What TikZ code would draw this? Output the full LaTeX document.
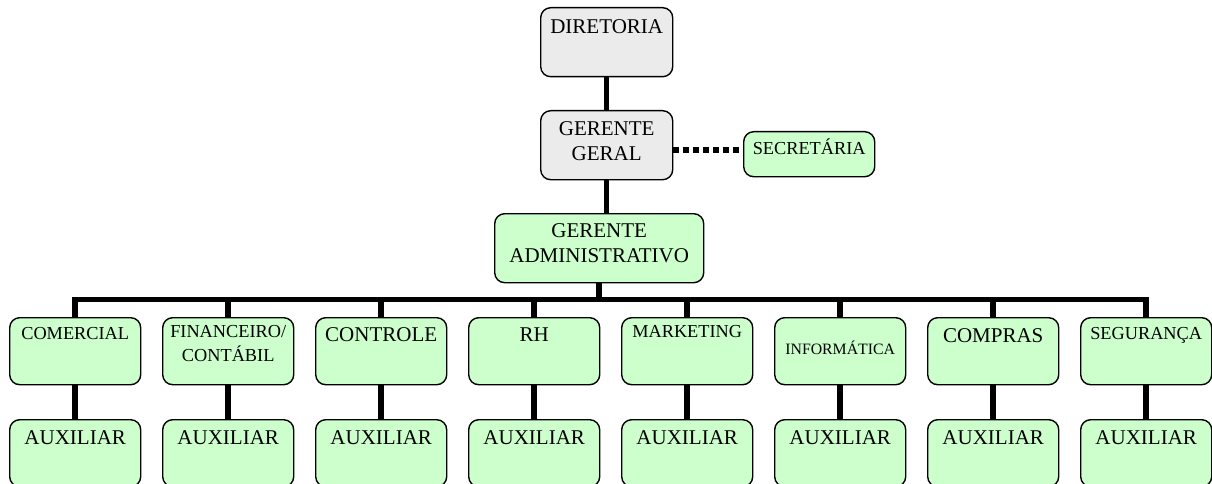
\documentclass[tikz,border=0pt]{standalone}
\usepackage{fontspec}
\setmainfont{Liberation Serif}
\definecolor{boxgrey}{HTML}{EBEBEB}
\definecolor{boxgreen}{HTML}{CCFFCC}
\begin{document}
\begin{tikzpicture}[x=1pt,y=-1pt,
  box/.style={draw=black, line width=1.4pt, rounded corners=10pt, inner sep=0pt,
              anchor=north west, align=center},
  greybox/.style={box, fill=boxgrey},
  greenbox/.style={box, fill=boxgreen},
  pad/.style 2 args={text height=#1pt, text depth=#2pt},
  big/.style={font=\fontsize{21}{24.5}\selectfont},
  small/.style={font=\fontsize{18.3}{24}\selectfont},
  tiny/.style={font=\fontsize{15.8}{19}\selectfont},
  dept/.style={greenbox, text width=131pt},
  link/.style={line width=5.5pt, line join=miter},
  dotlink/.style={line width=5.5pt, dash pattern=on 5.5pt off 4.5pt}]
\useasboundingbox (0,0) rectangle (1212,484);

% upper levels
\node[greybox, big, text width=132pt, pad={26}{43}] (dir) at (540,7) {DIRETORIA};
\node[greybox, big, text width=132pt, pad={25}{44}] (gg) at (540,110) {GERENTE\\GERAL};
\node[greenbox, small, text width=131pt, pad={23}{22}] (sec) at (743,131) {SECRETÁRIA};
\node[greenbox, big, text width=209pt, pad={24}{45}] (ga) at (494,213) {GERENTE\\ADMINISTRATIVO};

% departments
\node[dept, small, pad={22}{45}] (d1) at (9,317)    {COMERCIAL};
\node[dept, small, pad={20}{47}] (d2) at (162,317)  {FINANCEIRO/\\CONTÁBIL};
\node[dept, big,   pad={24}{43}] (d3) at (315,317)  {CONTROLE};
\node[dept, big,   pad={24}{43}] (d4) at (468,317)  {RH};
\node[dept, small, pad={20}{47}] (d5) at (621,317)  {MARKETING};
\node[dept, tiny,  pad={37}{30}] (d6) at (774,317)  {INFORMÁTICA};
\node[dept, big,   pad={25}{42}] (d7) at (927,317)  {COMPRAS};
\node[dept, small, pad={22}{45}] (d8) at (1080,317) {SEGURANÇA};

% assistants
\foreach \i in {1,...,8}{
  \node[dept, big, pad={25}{42}] (a\i) at ({9+153*(\i-1)},419) {AUXILIAR};
}

% connectors
\coordinate (bar) at (ga.south |- 0,299.5);
\coordinate (secy) at (0,150);
\draw[link] (dir.south) -- (gg.north);
\draw[link] (gg.south) -- (gg.south |- ga.north);
\draw[dotlink] (gg.east |- secy) -- (sec.west |- secy);
\draw[link] (ga.south) -- (bar);
\draw[link] (d1.north) |- (bar) -| (d8.north);
\foreach \i in {2,...,7}{
  \draw[link] (d\i.north) -- (d\i.north |- bar);
}
\foreach \i in {1,...,8}{
  \draw[link] (d\i.south) -- (a\i.north);
}
\end{tikzpicture}
\end{document}
